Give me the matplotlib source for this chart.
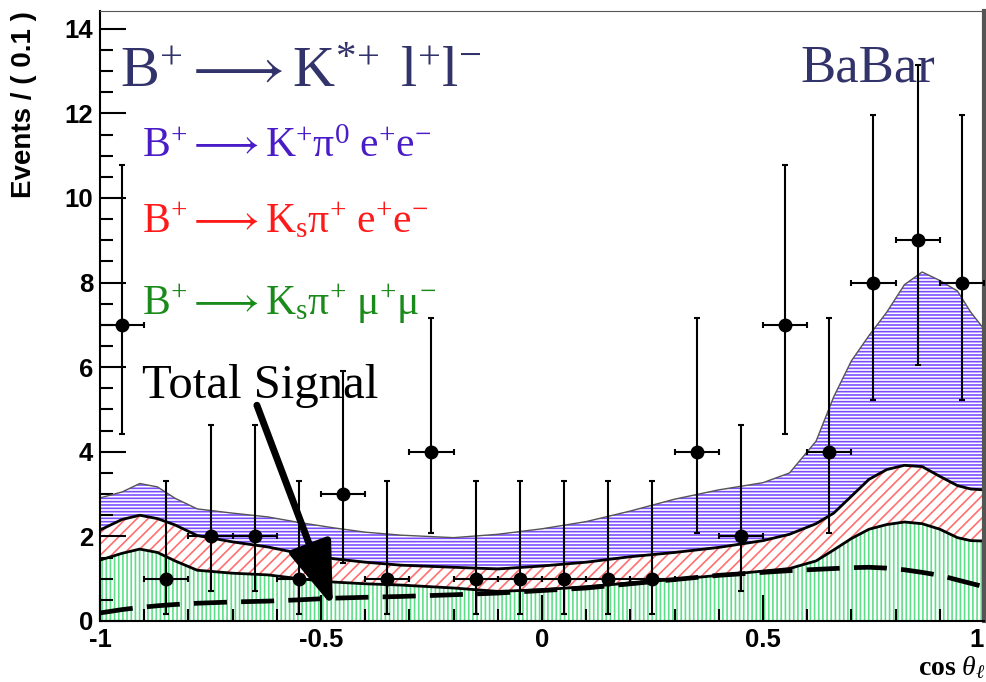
import numpy as np
import matplotlib
matplotlib.use("Agg")
import matplotlib.pyplot as plt
from matplotlib.ticker import MultipleLocator

# ------------------ DATA ------------------
# binned data (bin centres, counts, asymmetric errors)
bin_x = [-0.95, -0.85, -0.75, -0.65, -0.55, -0.45, -0.35, -0.25, -0.15, -0.05,
         0.05, 0.15, 0.25, 0.35, 0.45, 0.55, 0.65, 0.75, 0.85, 0.95]
counts = [7, 1, 2, 2, 1, 3, 1, 4, 1, 1, 1, 1, 1, 4, 2, 7, 4, 8, 9, 8]
err_lo = [2.58, 0.83, 1.29, 1.29, 0.83, 1.63, 0.83, 1.91, 0.83, 0.83,
          0.83, 0.83, 0.83, 1.91, 1.29, 2.58, 1.91, 2.77, 2.94, 2.77]
err_hi = [3.77, 2.30, 2.64, 2.64, 2.30, 2.92, 2.30, 3.16, 2.30, 2.30,
          2.30, 2.30, 2.30, 3.16, 2.64, 3.77, 3.16, 3.97, 4.15, 3.97]
bin_half = 0.05

# stacked fit components
curve_x = [-1.0, -0.95, -0.91, -0.87, -0.83, -0.78, -0.70, -0.62, -0.55, -0.47,
           -0.40, -0.32, -0.20, -0.10, 0.0, 0.10, 0.20, 0.30, 0.40, 0.50,
           0.56, 0.62, 0.66, 0.70, 0.74, 0.78, 0.82, 0.86, 0.90, 0.94, 0.97, 1.0]
kspi_mumu = [1.44, 1.60, 1.70, 1.62, 1.42, 1.20, 1.13, 1.09, 1.00, 0.92,
             0.88, 0.85, 0.78, 0.70, 0.74, 0.81, 0.90, 0.98, 1.08, 1.18,
             1.24, 1.42, 1.68, 1.95, 2.17, 2.28, 2.34, 2.30, 2.17, 1.97, 1.90, 1.89]
kspi_ee = [2.15, 2.40, 2.50, 2.42, 2.27, 2.02, 1.87, 1.75, 1.60, 1.47,
           1.39, 1.32, 1.27, 1.23, 1.30, 1.39, 1.52, 1.62, 1.74, 1.90,
           2.05, 2.30, 2.55, 2.95, 3.35, 3.58, 3.68, 3.65, 3.42, 3.20, 3.12, 3.10]
kpi0_ee = [2.91, 3.05, 3.25, 3.17, 2.90, 2.65, 2.55, 2.46, 2.33, 2.20,
           2.10, 2.03, 1.97, 2.05, 2.18, 2.35, 2.60, 2.88, 3.10, 3.27,
           3.50, 4.25, 5.30, 6.15, 6.75, 7.30, 7.95, 8.25, 8.05, 7.80, 7.30, 6.90]
total_signal = [0.19, 0.27, 0.32, 0.36, 0.39, 0.42, 0.45, 0.47, 0.50, 0.54,
                0.56, 0.58, 0.62, 0.66, 0.72, 0.78, 0.88, 0.98, 1.08, 1.15,
                1.19, 1.22, 1.24, 1.26, 1.27, 1.25, 1.21, 1.15, 1.08, 0.97, 0.89, 0.81]
# ------------------------------------------

plt.rcParams['hatch.linewidth'] = 1.2
plt.rcParams['mathtext.fontset'] = 'custom'
plt.rcParams['mathtext.rm'] = 'Liberation Serif'
plt.rcParams['mathtext.it'] = 'Liberation Serif:italic'
plt.rcParams['mathtext.bf'] = 'Liberation Serif:bold'

fig = plt.figure(figsize=(9.87, 6.82), dpi=100)
ax = fig.add_axes([100 / 987, 1 - 621 / 682, 884 / 987, 610 / 682])

cx = np.array(curve_x)
ax.fill_between(cx, kspi_ee, kpi0_ee, facecolor='white', edgecolor='#7b4dff',
                hatch='-----', linewidth=0, zorder=1)
ax.fill_between(cx, kspi_mumu, kspi_ee, facecolor='white', edgecolor='#ff6f6f',
                hatch='///', linewidth=0, zorder=1)
ax.fill_between(cx, 0, kspi_mumu, facecolor='white', edgecolor='#5ee08a',
                hatch='||||', linewidth=0, zorder=1)
ax.plot(cx, kpi0_ee, color='#555555', lw=1.0, zorder=2)
ax.plot(cx, kspi_ee, color='black', lw=2.0, zorder=2)
ax.plot(cx, kspi_mumu, color='black', lw=2.0, zorder=2)
ax.plot(cx, total_signal, color='black', lw=3.4, linestyle=(0, (7, 3)), zorder=3)

ax.errorbar(bin_x, counts, yerr=[err_lo, err_hi], xerr=bin_half, fmt='o',
            color='black', ms=9, elinewidth=1.5, capsize=2.5, capthick=1.5, zorder=4)

# arrow pointing to the total signal curve
ax.annotate('', xy=(-0.473, 0.33), xytext=(-0.645, 5.1),
            arrowprops=dict(arrowstyle='-|>,head_length=1.3,head_width=0.45',
                            lw=5, mutation_scale=30, color='black', shrinkA=0, shrinkB=0),
            zorder=5)

ax.set_xlim(-1, 1)
ax.set_ylim(0, 14.42)
ax.xaxis.set_major_locator(MultipleLocator(0.5))
ax.xaxis.set_minor_locator(MultipleLocator(0.1))
ax.yaxis.set_major_locator(MultipleLocator(2))
ax.yaxis.set_minor_locator(MultipleLocator(0.5))
ax.tick_params(which='both', direction='in', top=False, right=False, width=1.5)
ax.tick_params(which='major', length=19, pad=5)
ax.tick_params(which='minor', length=9)
ax.set_xticks([-1, -0.5, 0, 0.5, 1])
ax.set_xticklabels(['-1', '-0.5', '0', '0.5', '1'])
for lab in ax.get_xticklabels() + ax.get_yticklabels():
    lab.set_fontfamily('Liberation Sans')
    lab.set_fontweight('bold')
    lab.set_fontsize(18.5)
ax.get_xticklabels()[-1].set_ha('right')

for side in ['left', 'bottom']:
    ax.spines[side].set_linewidth(1.5)
ax.spines['top'].set_color('#555555')
ax.spines['right'].set_color('#555555')
ax.spines['right'].set_linewidth(3)

ax.set_ylabel('Events / ( 0.1 )', fontfamily='Liberation Sans', fontweight='bold',
              fontsize=20, loc='top')
ax.yaxis.set_label_coords(-0.071, 1.0)
fig.text(985 / 987, 1 - 675 / 682, r'$\mathbf{cos}\ \theta_\ell$', ha='right',
         va='baseline', fontsize=20)

# labels
tf = 'Liberation Serif'
ax.text(0.023, 0.875, r'$\mathrm{B^{+} \longrightarrow K^{*\!+}\ l^{+}l^{-}}$',
        transform=ax.transAxes, fontsize=42, color='#33336b', family=tf)
ax.text(0.0475, 0.761, r'$\mathrm{B^{+} \longrightarrow K^{+}\pi^{0}\ e^{+}e^{-}}$',
        transform=ax.transAxes, fontsize=30, color='#4a1cc8', family=tf)
ax.text(0.0475, 0.638, r'$\mathrm{B^{+} \longrightarrow K_{s}\pi^{+}\ e^{+}e^{-}}$',
        transform=ax.transAxes, fontsize=30, color='#ff1a1a', family=tf)
ax.text(0.0475, 0.502, r'$\mathrm{B^{+} \longrightarrow K_{s}\pi^{+}\ \mu^{+}\mu^{-}}$',
        transform=ax.transAxes, fontsize=30, color='#1a8a1a', family=tf)
ax.text(0.048, 0.366, 'Total Signal', transform=ax.transAxes, fontsize=35,
        color='black', family=tf)
ax.text(0.792, 0.884, 'BaBar', transform=ax.transAxes, fontsize=38,
        color='#33336b', family=tf)

fig.savefig('out.png', dpi=100)
